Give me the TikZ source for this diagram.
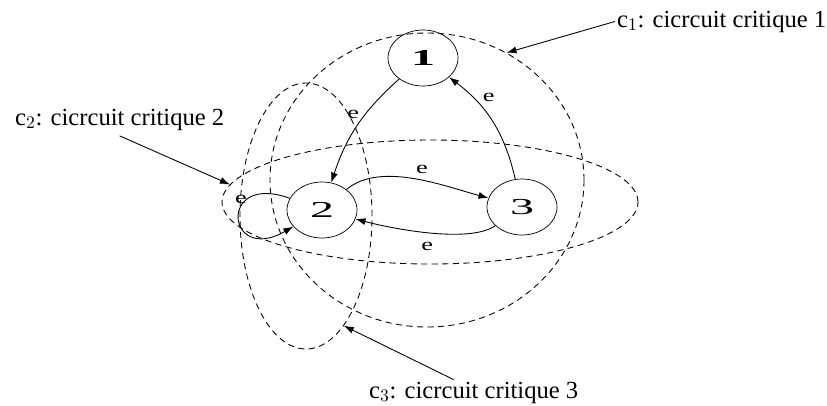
\documentclass[tikz,border=0pt]{standalone}
\usepackage{fontspec}
\setmainfont{Liberation Serif}
\usepackage{graphicx}
\usetikzlibrary{shapes.geometric,arrows.meta}

\newcommand\bigdigit[1]{\scalebox{2.1}[1]{\fontsize{13}{13}\selectfont #1}}
\newcommand\elabel{\scalebox{1.5}[1]{\fontsize{10}{10}\selectfont e}}

\begin{document}
\begin{tikzpicture}[vertex/.style={draw, ellipse, inner sep=0pt, minimum width=1.4cm, minimum height=1.12cm},
                    arc/.style={-{Latex[length=2mm, width=1.4mm]}, line width=0.5pt}]
        \tikzstyle{cycle}=[draw, ellipse, inner sep=0pt, line width=0.5pt, dash pattern=on 3.5pt off 2.5pt]
        \tikzstyle{caption}=[inner sep=1pt, font=\fontsize{14}{16}\selectfont]
        \useasboundingbox (0, 0) rectangle (16.54, -8.10);

        \node[cycle, minimum width=6.28cm, minimum height=5.88cm] (c1) at (8.54, -3.60) {};
        \node[cycle, minimum width=8.32cm, minimum height=2.48cm] (c2) at (8.60, -4.04) {};
        \node[cycle, minimum width=2.64cm, minimum height=5.32cm] (c3) at (6.12, -4.32) {};

        \node[vertex] (1) at (8.46,  -1.16) {\bigdigit{\bfseries 1}};
        \node[vertex] (2) at (6.44,  -4.20) {\bigdigit{2}};
        \node[vertex] (3) at (10.44, -4.14) {\bigdigit{3}};

        \draw[arc] (1) to[bend right=15] node[left, pos=0.38] (e12) {\elabel} (2);
        \draw[arc] (3) to[bend right=20] node[right=2pt, pos=0.76] (e31) {\elabel} (1);
        \draw[arc] (2) to[out=40, in=165, looseness=0.8] node[above, pos=0.55] (e23) {\elabel} (3);
        \draw[arc] (3) to[out=215, in=-15, looseness=0.6] node[below=2pt] (e32) {\elabel} (2);
        \draw[arc] (2) to[out=160, in=210, looseness=1, min distance=1.55cm] node[above=-2pt, pos=0.38] (e22) {\elabel} (2);

        \node[caption, anchor=base west] (l1) at (12.30, -0.54) {c$_1$: cicrcuit critique 1};
        \node[caption, anchor=base west] (l2) at (0.26,  -2.50) {c$_2$: cicrcuit critique 2};
        \node[caption, anchor=base west] (l3) at (7.34,  -7.96) {c$_3$: cicrcuit critique 3};

        \draw[arc] (l1.west) -- (c1.58);
        \draw[arc] ([yshift=-2pt]l2.south) -- (c2.175);
        \draw[arc] ([xshift=-0.4cm]l3.north) -- (c3.-71);
    \end{tikzpicture}
\end{document}
